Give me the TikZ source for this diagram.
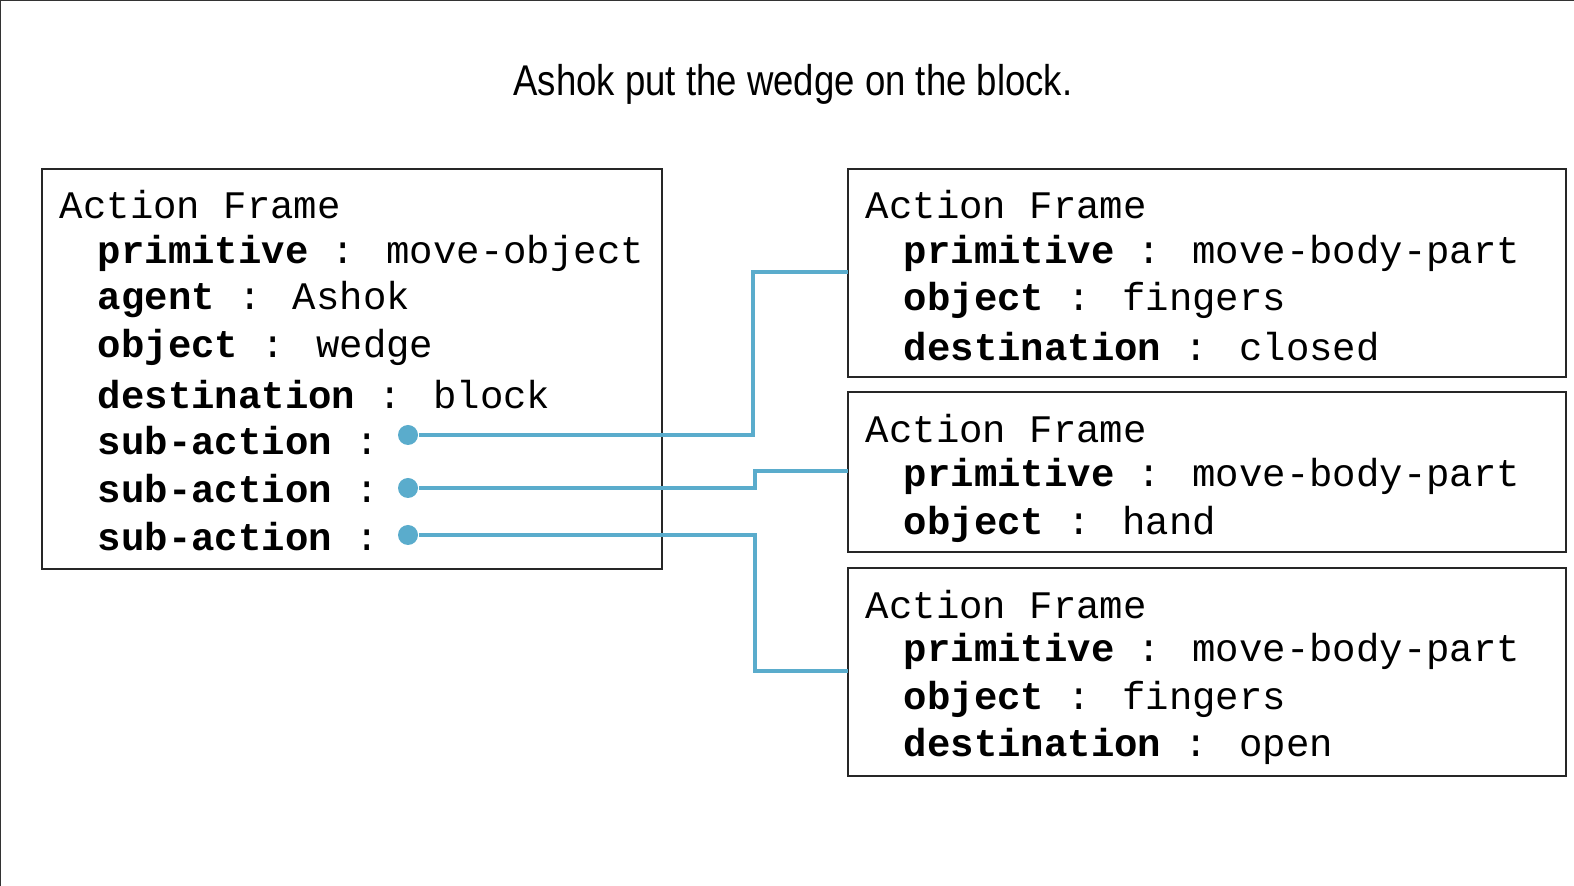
\documentclass[tikz,border=0pt]{standalone}
\usepackage{fontspec}
\setmainfont{Liberation Sans}
\newfontfamily\framefont{Liberation Mono}
\usetikzlibrary{positioning}
\definecolor{linkblue}{HTML}{5AACCC}
\begin{document}
\begin{tikzpicture}[x=0.5pt,y=-0.5pt,thick]
    % `frame' is the outline of each action frame.
    % `slot' is a line of text inside a frame.
    % `knob' marks where a sub-action link starts.
    \tikzstyle{frame} = [draw=black!85,line width=0.6pt]
    \tikzstyle{slot} = [anchor=west,inner sep=0pt,font=\framefont\fontsize{19.5}{22}\selectfont]
    \tikzstyle{knob} = [fill=linkblue,shape=circle,minimum size=10pt,inner sep=0pt]
    \tikzstyle{link} = [draw=linkblue,line width=1.6pt]
    \useasboundingbox (0,0) rectangle (1574,886);
    \draw[black!80,line width=1pt] (0,0) -- (1574,0) (0,0) -- (0,886);
    % Title.
    \node[font=\fontsize{21.5}{24}\selectfont,xscale=0.85] (title) at (793,84) {Ashok put the wedge on the block.};
    % Frames.
    \draw[frame] (42,169) rectangle (662,569);
    \draw[frame] (848,169) rectangle (1566,377);
    \draw[frame] (848,392) rectangle (1566,552);
    \draw[frame] (848,568) rectangle (1566,776);
    % Left frame.
    \node[slot] (a0) at (59,205) {Action Frame};
    \node[slot] (a1) at (97,253) {\textbf{primitive} : move-object};
    \node[slot] (a2) at (97,300) {\textbf{agent} : Ashok};
    \node[slot] (a3) at (97,347) {\textbf{object} : wedge};
    \node[slot] (a4) at (97,395) {\textbf{destination} : block};
    \node[slot] (s1) at (97,441) {\textbf{sub-action} :};
    \node[slot] (s2) at (97,489) {\textbf{sub-action} :};
    \node[slot] (s3) at (97,537) {\textbf{sub-action} :};
    \node[knob] (d1) at (408,435) {};
    \node[knob] (d2) at (408,488) {};
    \node[knob] (d3) at (408,535) {};
    % Right frames.
    \node[slot] (b0) at (865,205) {Action Frame};
    \node[slot] (b1) at (903,253) {\textbf{primitive} : move-body-part};
    \node[slot] (b2) at (903,300) {\textbf{object} : fingers};
    \node[slot] (b3) at (903,347) {\textbf{destination} : closed};
    \node[slot] (c0) at (865,429) {Action Frame};
    \node[slot] (c1) at (903,476) {\textbf{primitive} : move-body-part};
    \node[slot] (c2) at (903,524) {\textbf{object} : hand};
    \node[slot] (e0) at (865,605) {Action Frame};
    \node[slot] (e1) at (903,651) {\textbf{primitive} : move-body-part};
    \node[slot] (e2) at (903,699) {\textbf{object} : fingers};
    \node[slot] (e3) at (903,746) {\textbf{destination} : open};
    % Link ends.
    \coordinate (t1) at (848,272);
    \coordinate (t2) at (848,471);
    \coordinate (t3) at (848,671);
    \coordinate (j1) at (753,435);
    \coordinate (j2) at (755,488);
    \coordinate (j3) at (755,535);
    % Links.
    \draw[link] (d1) -- (j1) |- (t1);
    \draw[link] (d2) -- (j2) |- (t2);
    \draw[link] (d3) -- (j3) |- (t3);
\end{tikzpicture}
\end{document}
